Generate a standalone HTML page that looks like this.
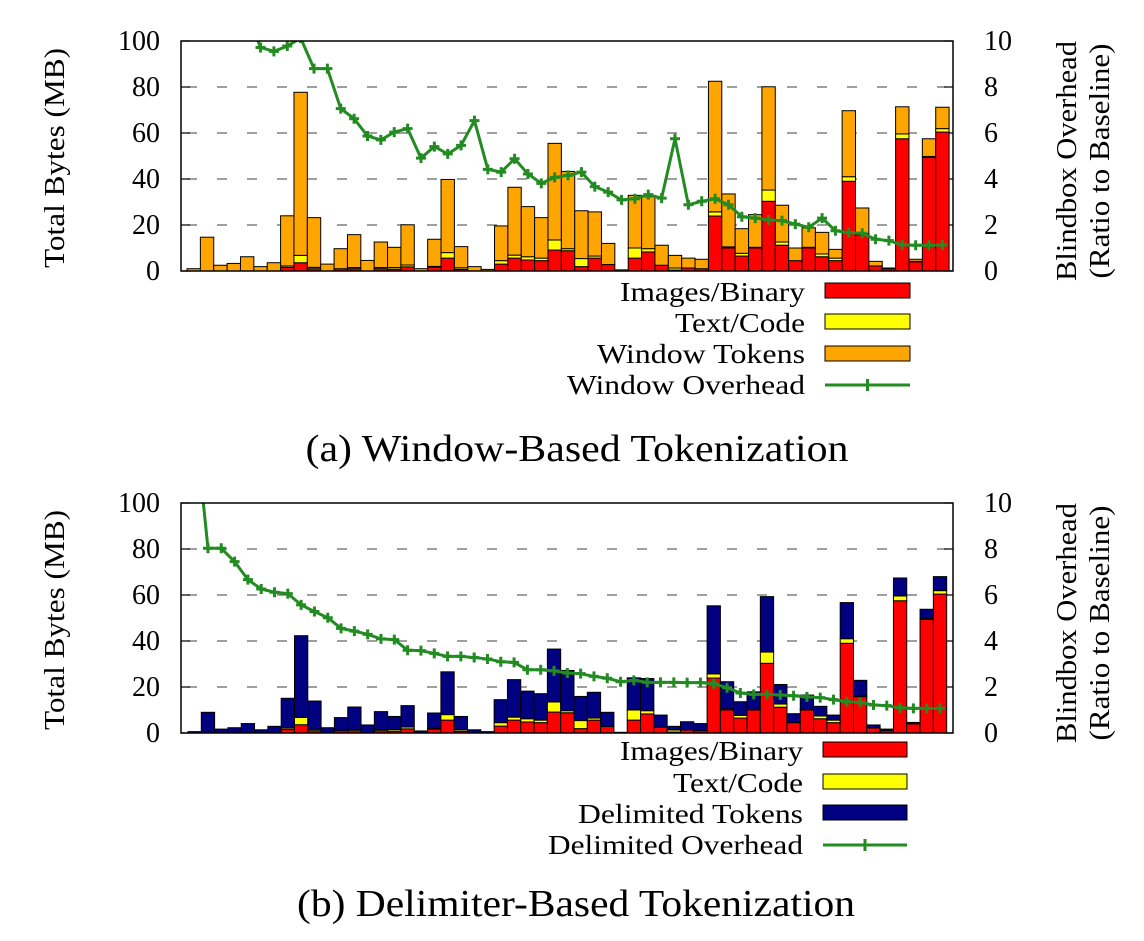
<!DOCTYPE html>
<html><head><meta charset="utf-8"><style>
body{margin:0;background:#fff}
svg text{font-family:"Liberation Serif",serif;fill:#000}
</style></head><body>
<svg id="fig" width="1144" height="936" viewBox="0 0 1144 936" xmlns="http://www.w3.org/2000/svg">
<defs>
<clipPath id="clipA"><rect x="181" y="41" width="772" height="230"/></clipPath>
<clipPath id="clipB"><rect x="181" y="503" width="772" height="230"/></clipPath>
</defs>
<g id="chartA"></g>
<g id="chartB"></g>

<g font-size="27">
<text x="805" y="301" text-anchor="end" textLength="185" lengthAdjust="spacingAndGlyphs">Images/Binary</text>
<rect x="825" y="283" width="85" height="15" fill="#ff0000" stroke="#000"/>
<text x="805" y="332" text-anchor="end" textLength="130" lengthAdjust="spacingAndGlyphs">Text/Code</text>
<rect x="825" y="314" width="85" height="15" fill="#ffff00" stroke="#000"/>
<text x="805" y="363" text-anchor="end" textLength="208" lengthAdjust="spacingAndGlyphs">Window Tokens</text>
<rect x="825" y="346" width="85" height="15" fill="#ffa500" stroke="#000"/>
<text x="805" y="394" text-anchor="end" textLength="238" lengthAdjust="spacingAndGlyphs">Window Overhead</text>
<line x1="825" y1="385" x2="910" y2="385" stroke="#228b22" stroke-width="3"/>
<path d="M867.5 379v12" stroke="#228b22" stroke-width="3"/>
</g>
<text x="577" y="461" text-anchor="middle" font-size="38" textLength="543" lengthAdjust="spacingAndGlyphs">(a) Window-Based Tokenization</text>

<g font-size="27">
<text x="803" y="760" text-anchor="end" textLength="183" lengthAdjust="spacingAndGlyphs">Images/Binary</text>
<rect x="823" y="742" width="84" height="15" fill="#ff0000" stroke="#000"/>
<text x="803" y="792" text-anchor="end" textLength="130" lengthAdjust="spacingAndGlyphs">Text/Code</text>
<rect x="823" y="774" width="84" height="15" fill="#ffff00" stroke="#000"/>
<text x="803" y="823" text-anchor="end" textLength="225" lengthAdjust="spacingAndGlyphs">Delimited Tokens</text>
<rect x="823" y="805" width="84" height="15" fill="#000080" stroke="#000"/>
<text x="803" y="854" text-anchor="end" textLength="255" lengthAdjust="spacingAndGlyphs">Delimited Overhead</text>
<line x1="823" y1="845" x2="907" y2="845" stroke="#228b22" stroke-width="3"/>
<path d="M865 839v12" stroke="#228b22" stroke-width="3"/>
</g>
<text x="576" y="916" text-anchor="middle" font-size="38" textLength="558" lengthAdjust="spacingAndGlyphs">(b) Delimiter-Based Tokenization</text>
</svg>
<script>
const imagesMB = [0,0,0,0,0,0,0,1.6,3.6,1,0,1,1,0,1,0.8,1.8,0,1.7,5.6,0.7,0,0,3,5.6,4.8,4.5,9.1,8.8,1.9,5.6,2.8,0,5.6,8.3,2.5,0.4,1.3,1,23.9,10,6.5,10,30.3,11.2,4.5,10,6.2,4.5,39,15.8,2.2,1,57.5,4,49.4,60.4];
const textMB = [0,0,0,0,0,0,0,0.6,3.2,0.6,0,0,0.5,0,0.5,0.7,0.8,0,0.3,2.4,0.7,0,0,1.5,1.3,1.4,1.1,4.4,0.9,3.5,0.9,0,0,4.4,1.4,0,0.9,0,0,1.8,0.5,1.2,0.3,4.9,1.4,0,0.3,1.2,1.1,2,0.4,0,0,2.1,0.2,0.4,1.5];
const windowTotalMB = [1,14.7,2.5,3.3,6.2,1.9,3.6,24,77.7,23.2,3,9.7,15.8,4.6,12.6,10.3,20.1,1,13.8,39.8,10.6,1.9,0.7,19.6,36.4,28,23.2,55.5,43.3,26.2,25.7,12,0.5,32.9,32.3,11.2,6.8,5.6,5.1,82.5,33.5,18.4,24.5,80.1,28.6,10,18.8,16.8,9.4,69.7,27.4,4.2,1.3,71.4,5.1,57.5,71.2];
const delimTotalMB = [0.6,9,1.7,2.3,4.1,1.4,2.9,15.1,42.3,13.9,2.3,6.7,11.3,3.5,9.3,7.2,11.9,0.9,8.7,26.6,7.2,1.4,0.6,14.5,23.2,18.2,17.1,36.5,27.2,15.9,17.7,9,0.3,24,23.7,7.8,2.9,4.9,4.1,55.3,22.3,13.6,17.9,59.3,21.1,8.4,16.5,11.6,7.8,56.7,22.9,3.5,1.7,67.4,4.6,53.8,68];
const windowOverhead = [null,null,null,null,11.2,9.72,9.55,9.78,10.13,8.8,8.8,7.06,6.62,5.87,5.7,6.04,6.19,4.91,5.41,5.09,5.46,6.54,4.42,4.3,4.88,4.22,3.81,4.07,4.16,4.3,3.67,3.43,3.09,3.14,3.32,3.17,5.75,2.88,3.03,3.14,2.88,2.36,2.3,2.22,2.19,2.04,1.9,2.3,1.75,1.67,1.64,1.38,1.32,1.14,1.12,1.12,1.13];
const delimOverhead = [13.7,8.03,8.03,7.45,6.67,6.26,6.12,6.06,5.57,5.28,5.01,4.55,4.43,4.29,4.09,4.06,3.6,3.58,3.46,3.33,3.33,3.28,3.22,3.1,3.07,2.75,2.75,2.7,2.61,2.58,2.46,2.38,2.23,2.29,2.2,2.2,2.2,2.19,2.19,2.14,1.97,1.74,1.68,1.68,1.65,1.62,1.57,1.54,1.45,1.36,1.33,1.22,1.19,1.1,1.07,1.07,1.07];
const leftTicks = [0,20,40,60,80,100];
const rightTicks = [0,2,4,6,8,10];

const NS = "http://www.w3.org/2000/svg";
function mk(parent, tag, attrs){const e=document.createElementNS(NS,tag);for(const k in attrs)e.setAttribute(k,attrs[k]);parent.appendChild(e);return e;}

function drawChart(gid, top, x0, step, totals, tokColor, overhead, clipId, prefix){
  const g=document.getElementById(gid);
  const L=181,R=953,B=top+230;
  const yL=v=>B-v/100*230;
  const yR=v=>B-v/10*230;
  const xs=i=>x0+step*i;
  leftTicks.forEach(t=>{
    if(t>0&&t<100){
      const gl=mk(g,'line',{x1:L+6,x2:R-6,y1:yL(t),y2:yL(t),stroke:'#666','stroke-width':1.3,'stroke-dasharray':'10 20'});
      
      
    }
    const tm=mk(g,'line',{x1:L,x2:L+9,y1:yL(t),y2:yL(t),stroke:'#000','stroke-width':1.2});
    
    
    const tl=mk(g,'text',{x:160,y:yL(t)+9,'text-anchor':'end','font-size':28});
    tl.textContent=t;
    
    
  });
  rightTicks.forEach(t=>{
    const tm=mk(g,'line',{x1:R-9,x2:R,y1:yR(t),y2:yR(t),stroke:'#000','stroke-width':1.2});
    
    
    const tl=mk(g,'text',{x:984,y:yR(t)+9,'font-size':28});
    tl.textContent=t;
    
    
  });
  totals.forEach((tot,i)=>{
    const x=xs(i);
    const segs=[[0,imagesMB[i],'#ff0000'],[imagesMB[i],imagesMB[i]+textMB[i],'#ffff00'],[imagesMB[i]+textMB[i],Math.max(tot,imagesMB[i]+textMB[i]),tokColor]];
    segs.forEach((s,k)=>{
      if(s[1]-s[0]<=0)return;
      const r=mk(g,'rect',{x:x,y:yL(s[1]),width:step,height:yL(s[0])-yL(s[1]),fill:s[2],stroke:'#000','stroke-width':1});
      
      
    });
  });
  const lg=mk(g,'g',{'clip-path':'url(#'+clipId+')'});
  
  
  let d='';
  overhead.forEach((v,i)=>{if(v===null)return;d+=(d?'L':'M')+(xs(i)+step/2)+' '+yR(v);});
  const p=mk(lg,'path',{d:d,fill:'none',stroke:'#228b22','stroke-width':3,'stroke-linejoin':'round'});
  
  
  overhead.forEach((v,i)=>{
    if(v===null)return;
    const cx=xs(i)+step/2,cy=yR(v);
    const m=mk(lg,'path',{d:`M${cx-5} ${cy}h10M${cx} ${cy-5}v10`,stroke:'#228b22','stroke-width':3});
    
    
  });
  const f=mk(g,'rect',{x:L,y:top,width:R-L,height:230,fill:'none',stroke:'#000','stroke-width':1.5});
  
  
  const yt=mk(g,'text',{x:0,y:0,'font-size':28,'text-anchor':'middle',textLength:220,lengthAdjust:'spacingAndGlyphs',transform:`translate(64 ${top+117}) rotate(-90)`});
  yt.textContent='Total Bytes (MB)';
  
  
  const r1=mk(g,'text',{x:0,y:0,'font-size':28,'text-anchor':'middle',textLength:240,lengthAdjust:'spacingAndGlyphs',transform:`translate(1076 ${top+120}) rotate(-90)`});
  r1.textContent='Blindbox Overhead';
  
  
  const r2=mk(g,'text',{x:0,y:0,'font-size':28,'text-anchor':'middle',textLength:235,lengthAdjust:'spacingAndGlyphs',transform:`translate(1109 ${top+120}) rotate(-90)`});
  r2.textContent='(Ratio to Baseline)';
  
  
}
drawChart('chartA',41,187,13.37,windowTotalMB,'#ffa500',windowOverhead,'clipA','window-');
drawChart('chartB',503,188,13.31,delimTotalMB,'#000080',delimOverhead,'clipB','delim-');
</script>
</body></html>
